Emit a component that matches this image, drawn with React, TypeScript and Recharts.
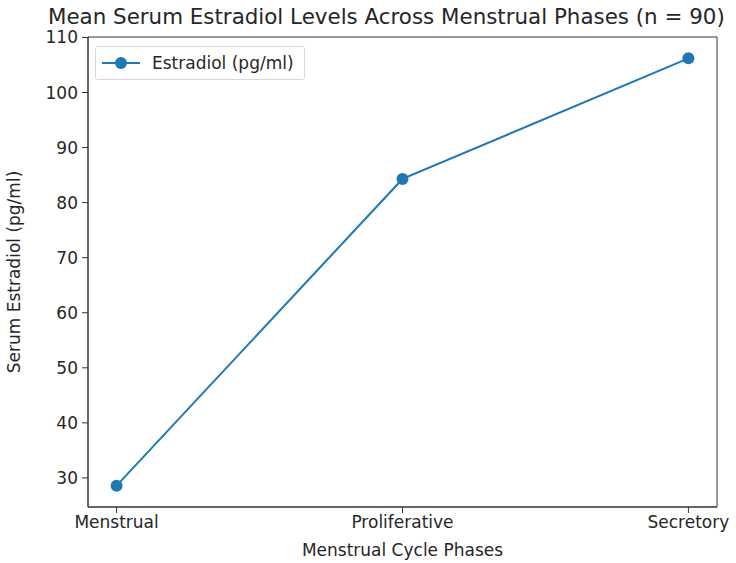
import { LineChart, Line, XAxis, YAxis, ReferenceArea } from 'recharts'

const phases = ['Menstrual', 'Proliferative', 'Secretory']
const estradiol = [28.6, 84.3, 106.2]
const yTicks = [30, 40, 50, 60, 70, 80, 90, 100, 110]
const yDomain = [24.72, 110.08]
const xDomain = [-0.1, 2.1]

const data = phases.map((phase, i) => ({ idx: i, phase, estradiol: estradiol[i] }))

const font = 'DejaVu Sans, sans-serif'
const blue = '#1f77b4'
const ink = '#262626'

function LegendBox() {
  return (
    <div
      style={{
        position: 'absolute',
        top: 46,
        left: 95,
        display: 'flex',
        alignItems: 'center',
        border: '1px solid #d8d8d8',
        borderRadius: 3,
        background: '#fff',
        padding: '6px 10px 6px 6px',
        fontFamily: font,
        fontSize: 17,
        color: ink,
      }}
    >
      <svg width={38} height={14} style={{ marginRight: 12 }}>
        <line x1={0} y1={7} x2={38} y2={7} stroke={blue} strokeWidth={2} />
        <circle cx={19} cy={7} r={6} fill={blue} />
      </svg>
      Estradiol (pg/ml)
    </div>
  )
}

export default function App() {
  return (
    <div style={{ position: 'absolute', left: 0, top: 0, width: 736, height: 563, background: '#fff' }}>
      <div
        style={{
          position: 'absolute',
          top: 4,
          left: 48,
          whiteSpace: 'nowrap',
          fontFamily: font,
          fontSize: 21.4,
          color: ink,
        }}
      >
        Mean Serum Estradiol Levels Across Menstrual Phases (n = 90)
      </div>
      <LineChart width={736} height={563} data={data} margin={{ top: 37, right: 19, bottom: 0, left: 0 }}>
        <XAxis
          dataKey="idx"
          type="number"
          domain={xDomain}
          allowDataOverflow
          ticks={[0, 1, 2]}
          tickFormatter={(i: number) => phases[i]}
          height={56}
          stroke="#333"
          tickSize={6}
          tickMargin={3}
          tick={{ fill: ink, fontSize: 17, fontFamily: font }}
          label={{ value: 'Menstrual Cycle Phases', position: 'insideBottom', offset: 7, fill: ink, fontSize: 17, fontFamily: font }}
        />
        <YAxis
          type="number"
          domain={yDomain}
          allowDataOverflow
          ticks={yTicks}
          width={88}
          stroke="#333"
          tickSize={6}
          tickMargin={4}
          tick={{ fill: ink, fontSize: 17, fontFamily: font }}
          label={{ value: 'Serum Estradiol (pg/ml)', angle: -90, position: 'insideLeft', offset: 14, fill: ink, fontSize: 17, fontFamily: font, style: { textAnchor: 'middle' } }}
        />
        {/* frame around the plot area */}
        <ReferenceArea
          x1={xDomain[0]}
          x2={xDomain[1]}
          y1={yDomain[0]}
          y2={yDomain[1]}
          fill="none"
          stroke="#333"
          strokeWidth={1}
          ifOverflow="visible"
        />
        <Line
          dataKey="estradiol"
          name="Estradiol (pg/ml)"
          stroke={blue}
          strokeWidth={2}
          dot={{ r: 6, fill: blue, stroke: blue, strokeWidth: 0 }}
          isAnimationActive={false}
        />
      </LineChart>
      <LegendBox />
    </div>
  )
}
